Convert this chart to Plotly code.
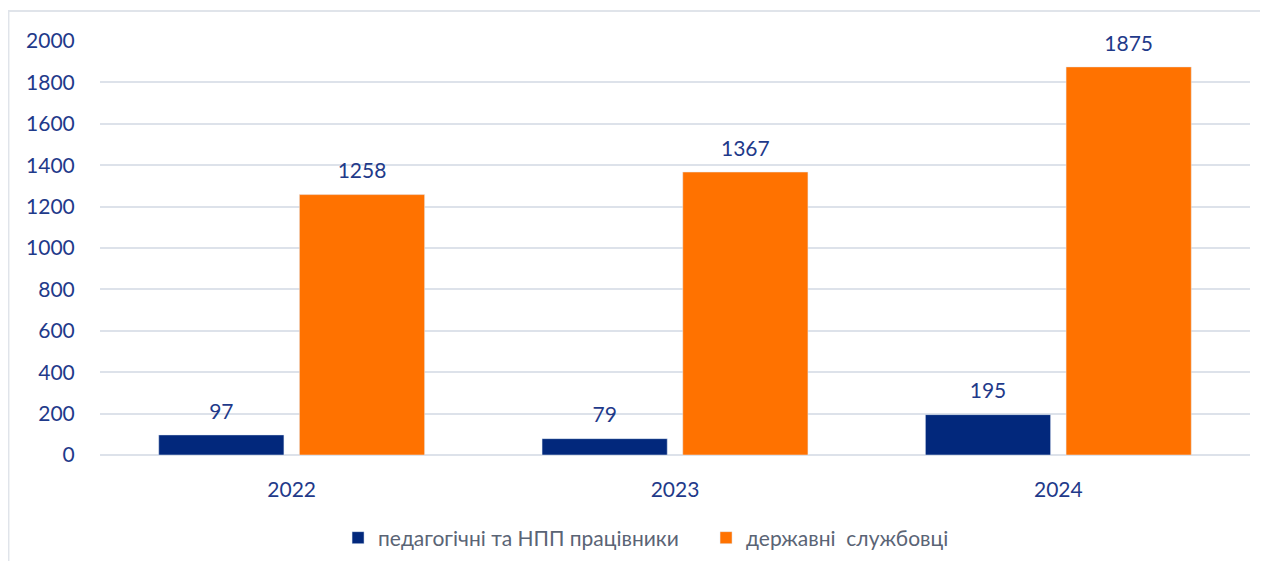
import plotly.graph_objects as go

# --- data ---
years = ["2022", "2023", "2024"]
teachers = [97, 79, 195]
civil_servants = [1258, 1367, 1875]
series_names = ["педагогічні та НПП працівники", "державні  службовці"]

NAVY = "#02287C"
ORANGE = "#FF7200"
LABEL = "#1F3A8A"
GRID = "#DDE2EA"
FONT = "Lato"
FS = 21

fig = go.Figure()
for name, vals, color, grp in [(series_names[0], teachers, NAVY, "a"),
                               (series_names[1], civil_servants, ORANGE, "b")]:
    fig.add_trace(go.Bar(x=years, y=vals, name=name, marker_color=color,
                         offsetgroup=grp, hoverinfo="x+y"))
    # invisible points carry the value labels above each bar
    fig.add_trace(go.Scatter(x=years, y=vals, mode="markers+text", offsetgroup=grp,
                             text=[str(v) for v in vals], textposition="top center",
                             textfont=dict(family=FONT, size=FS, color=LABEL),
                             marker=dict(size=16, color="rgba(0,0,0,0)"),
                             showlegend=False, hoverinfo="skip", cliponaxis=False))

# page body adds 8px margin, so the figure is 16px smaller than the window
fig.update_layout(
    width=1252, height=553,
    paper_bgcolor="white", plot_bgcolor="white",
    margin=dict(l=92, r=10, t=33, b=106),
    barmode="group", bargap=0.266, bargroupgap=0.11, scattermode="group",
    font=dict(family=FONT, size=FS, color=LABEL),
    xaxis=dict(type="category", ticks="outside", ticklen=16, tickcolor="rgba(0,0,0,0)",
               automargin=False),
    yaxis=dict(range=[0, 2000], dtick=200, gridcolor=GRID, gridwidth=2,
               zerolinecolor=GRID, zerolinewidth=2, automargin=False,
               ticks="outside", ticklen=20, tickcolor="rgba(0,0,0,0)"),
    legend=dict(orientation="h", x=0.207, xanchor="left",
                yref="container", y=0.0416, yanchor="middle",
                entrywidthmode="pixels", entrywidth=323,
                font=dict(family=FONT, size=FS, color="#5A6475")),
    shapes=[dict(type="rect", xref="paper", yref="paper",
                 x0=-0.0796, x1=1.2, y0=-0.5, y1=1.0725,
                 line=dict(color="#E0E4EA", width=2), layer="below")],
)

fig.write_html("out.html")
